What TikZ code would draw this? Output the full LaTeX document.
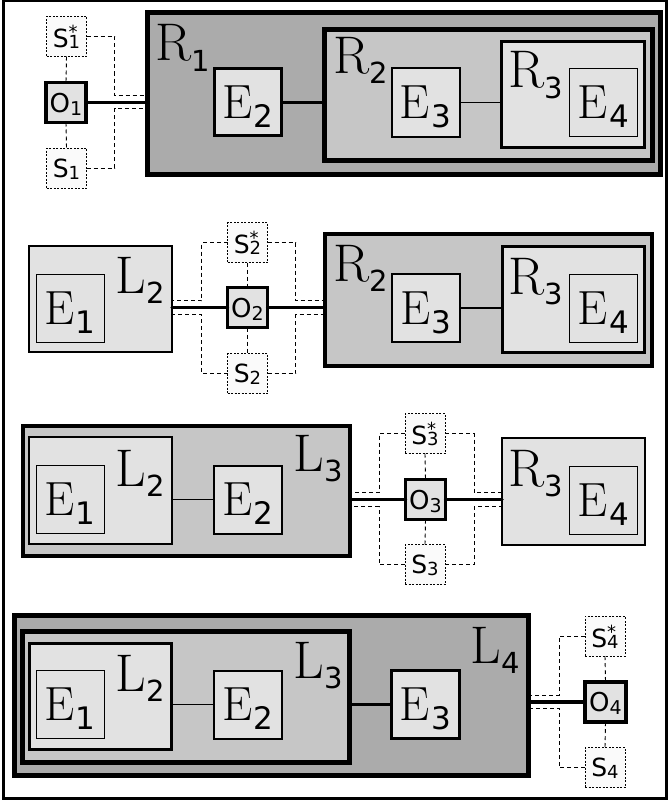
\documentclass[tikz,border=0pt]{standalone}
\usepackage{fontspec}
\newfontfamily\sff{DejaVu Sans}
\usetikzlibrary{calc}
\definecolor{gdark}{HTML}{ABABAB}
\definecolor{gmid}{HTML}{C6C6C6}
\definecolor{glight}{HTML}{E2E2E2}
\definecolor{gwhite}{HTML}{FAFAFA}
\newcommand\Etxt[1]{\fontsize{48}{48}\selectfont E\kern1.5pt\raisebox{-9pt}{\fontsize{31}{31}\sff #1}}
\newcommand\RLtxt[2]{\fontsize{53}{53}\selectfont #1\kern0.5pt\raisebox{-10pt}{\fontsize{29}{29}\sff #2}}
\newcommand\Otxt[1]{\fontsize{26}{26}\sff O\raisebox{-3pt}{\fontsize{19}{19}\sff #1}}
\newcommand\Sstxt[1]{\fontsize{25}{25}\sff S\rlap{\raisebox{9pt}{\fontsize{18}{18}\sff *}}\raisebox{-1pt}{\fontsize{18}{18}\sff #1}}
\newcommand\Stxt[1]{\fontsize{25}{25}\sff S\raisebox{-2pt}{\fontsize{18}{18}\sff #1}}
\tikzset{
  bx/.style={draw, rectangle, inner sep=0pt, outer sep=0pt, text depth=0pt},
  ebox/.style={bx, fill=glight, minimum width=68pt, minimum height=68pt},
  obox/.style={bx, fill=glight, line width=3.5pt, minimum width=40pt, minimum height=40pt},
  sbox/.style={bx, fill=gwhite, line width=0.8pt, dash pattern=on 2pt off 1.5pt, minimum width=40pt, minimum height=40pt},
  lab/.style={anchor=base west, inner sep=0pt},
  dsh/.style={line width=0.9pt, dash pattern=on 4pt off 3pt},
  main/.style={line width=3.5pt, line cap=round},
  thin/.style={line width=1.6pt},
}
\begin{document}
\begin{tikzpicture}[x=1pt,y=-1pt]
\useasboundingbox (0,0) rectangle (668,800);
\draw[line width=3pt] (3.5,1) rectangle (666.5,798.5);

% ---------------- Row 1 ----------------
\node[bx, fill=gdark, line width=5pt, minimum width=513pt, minimum height=162pt] (R1) at (404,93.5) {};
\node[bx, fill=gmid, line width=5pt, minimum width=328pt, minimum height=131pt] (R2a) at (488.5,95) {};
\node[bx, fill=glight, line width=3pt, minimum width=143pt, minimum height=106pt] (R3a) at (573,94.5) {};
\node[ebox, line width=1pt] (E4a) at (603.5,102.5) {\Etxt{4}};
\node[ebox, line width=2pt] (E3a) at (425.5,102.5) {\Etxt{3}};
\node[ebox, line width=3pt, minimum width=67pt, minimum height=67pt] (E2a) at (248,102) {\Etxt{2}};
\node[lab] (R1l) at (155,61) {\RLtxt{R}{1}};
\node[lab] (R2al) at (333,74) {\RLtxt{R}{2}};
\node[lab] (R3al) at (508,88) {\RLtxt{R}{3}};
\node[obox] (O1) at (66,102.5) {\Otxt{1}};
\node[sbox] (S1s) at (66.5,36.5) {\Sstxt{1}};
\node[sbox] (S1) at (66.5,168) {\Stxt{1}};
\draw[line width=3pt] (E2a.east) -- (E2a.east -| R2a.west);
\draw[thin] (E3a.east) -- (E3a.east -| R3a.west);
\draw[main] (O1.east) -- (O1.east -| R1.west);
\draw[dsh] (S1s.south) -- (O1.north);
\draw[dsh] (O1.south) -- (S1.north);
\draw[dsh] (S1s.east) -- ++(28,0) |- ([yshift=7pt]O1.east -| R1.west);
\draw[dsh] (S1.east) -- ++(28,0) |- ([yshift=-6pt]O1.east -| R1.west);

% ---------------- Row 2 ----------------
\node[bx, fill=glight, line width=2pt, minimum width=143pt, minimum height=106pt] (L2b) at (100.5,299) {};
\node[ebox, line width=1pt] (E1b) at (70,308) {\Etxt{1}};
\node[lab] (L2bl) at (115,293) {\RLtxt{L}{2}};
\node[bx, fill=gmid, line width=4pt, minimum width=327pt, minimum height=132pt] (R2b) at (488.5,300) {};
\node[bx, fill=glight, line width=3pt, minimum width=142pt, minimum height=106pt] (R3b) at (573.5,299.5) {};
\node[ebox, line width=2pt] (E3b) at (426,308) {\Etxt{3}};
\node[ebox, line width=1pt] (E4b) at (603.5,308) {\Etxt{4}};
\node[lab] (R2bl) at (333,281) {\RLtxt{R}{2}};
\node[lab] (R3bl) at (508,294) {\RLtxt{R}{3}};
\node[obox] (O2) at (247.5,307.5) {\Otxt{2}};
\node[sbox] (S2s) at (247.5,242.5) {\Sstxt{2}};
\node[sbox] (S2) at (247.5,373.5) {\Stxt{2}};
\draw[thin] (E3b.east) -- (E3b.east -| R3b.west);
\draw[main] (L2b.east |- O2.west) -- (O2.west);
\draw[main] (O2.east) -- (O2.east -| R2b.west);
\draw[dsh] (S2s.south) -- (O2.north);
\draw[dsh] (O2.south) -- (S2.north);
\draw[dsh] (S2s.west) -- ++(-26,0) |- ([yshift=7pt]O2.west -| L2b.east);
\draw[dsh] (S2.west) -- ++(-26,0) |- ([yshift=-7pt]O2.west -| L2b.east);
\draw[dsh] (S2s.east) -- ++(28,0) |- ([yshift=7pt]O2.east -| R2b.west);
\draw[dsh] (S2.east) -- ++(28,0) |- ([yshift=-7pt]O2.east -| R2b.west);

% ---------------- Row 3 ----------------
\node[bx, fill=gmid, line width=4pt, minimum width=327pt, minimum height=130pt] (L3c) at (186.5,491) {};
\node[bx, fill=glight, line width=2.5pt, minimum width=143pt, minimum height=107pt] (L2c) at (100.5,490.5) {};
\node[ebox, line width=1pt] (E1c) at (70,499.5) {\Etxt{1}};
\node[ebox, line width=2pt] (E2c) at (248,499.5) {\Etxt{2}};
\node[lab] (L2cl) at (115,486) {\RLtxt{L}{2}};
\node[lab] (L3cl) at (293,471) {\RLtxt{L}{3}};
\node[bx, fill=glight, line width=2.5pt, minimum width=143pt, minimum height=107pt] (R3c) at (573.5,491.5) {};
\node[ebox, line width=1pt] (E4c) at (603.5,500) {\Etxt{4}};
\node[lab] (R3cl) at (508,486) {\RLtxt{R}{3}};
\node[obox] (O3) at (425.5,499.5) {\Otxt{3}};
\node[sbox] (S3s) at (425,433.5) {\Sstxt{3}};
\node[sbox] (S3) at (425,564.5) {\Stxt{3}};
\draw[thin] (L2c.east |- E2c.west) -- (E2c.west);
\draw[main] (L3c.east |- O3.west) -- (O3.west);
\draw[main] (O3.east) -- (O3.east -| R3c.west);
\draw[dsh] (S3s.south) -- (O3.north);
\draw[dsh] (O3.south) -- (S3.north);
\draw[dsh] (S3s.west) -- ++(-26,0) |- ([yshift=7pt]O3.west -| L3c.east);
\draw[dsh] (S3.west) -- ++(-26,0) |- ([yshift=-7pt]O3.west -| L3c.east);
\draw[dsh] (S3s.east) -- ++(29,0) |- ([yshift=7pt]O3.east -| R3c.west);
\draw[dsh] (S3.east) -- ++(29,0) |- ([yshift=-7pt]O3.east -| R3c.west);

% ---------------- Row 4 ----------------
\node[bx, fill=gdark, line width=5pt, minimum width=514pt, minimum height=160pt] (L4d) at (271.5,695.5) {};
\node[bx, fill=gmid, line width=5pt, minimum width=327pt, minimum height=131pt] (L3d) at (186,697) {};
\node[bx, fill=glight, line width=3pt, minimum width=142pt, minimum height=106pt] (L2d) at (100.5,696.5) {};
\node[ebox, line width=1pt] (E1d) at (70,704.5) {\Etxt{1}};
\node[ebox, line width=2pt] (E2d) at (248,704.5) {\Etxt{2}};
\node[ebox, line width=3pt] (E3d) at (425.5,704.5) {\Etxt{3}};
\node[lab] (L2dl) at (115,691) {\RLtxt{L}{2}};
\node[lab] (L3dl) at (293,678) {\RLtxt{L}{3}};
\node[lab] (L4dl) at (470,663) {\RLtxt{L}{4}};
\node[obox, minimum width=41pt] (O4) at (605.5,702) {\Otxt{4}};
\node[sbox] (S4s) at (605,636) {\Sstxt{4}};
\node[sbox] (S4) at (605,767.5) {\Stxt{4}};
\draw[thin] (L2d.east |- E2d.west) -- (E2d.west);
\draw[line width=2.5pt] (L3d.east |- E3d.west) -- (E3d.west);
\draw[main] (L4d.east |- O4.west) -- (O4.west);
\draw[dsh] (S4s.south) -- (O4.north);
\draw[dsh] (O4.south) -- (S4.north);
\draw[dsh] (S4s.west) -- ++(-26,0) |- ([yshift=7pt]O4.west -| L4d.east);
\draw[dsh] (S4.west) -- ++(-26,0) |- ([yshift=-6pt]O4.west -| L4d.east);
\end{tikzpicture}
\end{document}
